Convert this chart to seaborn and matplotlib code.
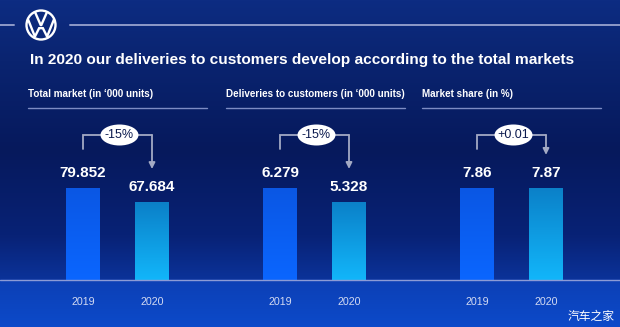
import numpy as np
import pandas as pd
import matplotlib
matplotlib.use("Agg")
import matplotlib.pyplot as plt
import matplotlib.transforms as mtransforms
from matplotlib.patches import Ellipse
from matplotlib.lines import Line2D
from matplotlib.colors import LinearSegmentedColormap
import seaborn as sns

# ---------------- data ----------------
title = "In 2020 our deliveries to customers develop according to the total markets"
panel_titles = ["Total market (in \u2018000 units)",
                "Deliveries to customers (in \u2018000 units)",
                "Market share (in %)"]
years = ["2019", "2020"]
total_market = [79.852, 67.684]
deliveries = [6.279, 5.328]
market_share = [7.86, 7.87]
decimals = [3, 3, 2]
changes = ["-15%", "-15%", "+0.01"]
watermark = "汽车之家"

# ---------------- style ----------------
sns.set_theme(style="white")
plt.rcParams['font.family'] = ['Liberation Sans', 'DejaVu Sans']

W, H, DPI = 620, 327, 100
fig = plt.figure(figsize=(W / DPI, H / DPI), dpi=DPI)


def fx(px):
    return px / W


def fy(py):
    return 1 - py / H


# background gradient
bg = fig.add_axes([0, 0, 1, 1], zorder=-10)
bg.set_axis_off()
stops_y = [0, 60, 150, 235, 278, 281, 327]
stops_c = [(13, 44, 130), (10, 36, 112), (6, 25, 92), (8, 34, 118),
           (11, 50, 152), (12, 64, 182), (12, 74, 202)]
rows = np.arange(H)
img = np.zeros((H, W, 3))
for ch in range(3):
    col = np.interp(rows, stops_y, [c[ch] / 255 for c in stops_c])
    img[:, :, ch] = col[:, None]
bg.imshow(img, extent=[0, 1, 0, 1], aspect='auto', origin='upper')
bg.set_xlim(0, 1)
bg.set_ylim(0, 1)

# header lines and logo
line_col = '#8e9bc9'
fig.add_artist(Line2D([0, fx(14)], [fy(25)] * 2, color=line_col, lw=1.4))
fig.add_artist(Line2D([fx(70), 1], [fy(25)] * 2, color=line_col, lw=1.4))
lx, ly, r = 41, 25, 14.5
fig.add_artist(Ellipse((fx(lx), fy(ly)), 2 * r / W, 2 * r / H, fill=False,
                       ec='white', lw=1.7, transform=fig.transFigure))


def logo_line(pts):
    xs = [fx(lx + px * r) for px, py in pts]
    ys = [fy(ly - py * r) for px, py in pts]
    fig.add_artist(Line2D(xs, ys, color='white', lw=1.7, solid_joinstyle='miter'))


logo_line([(-0.40, 0.86), (0, -0.05), (0.40, 0.86)])
logo_line([(-0.90, 0.40), (-0.42, -0.80), (-0.13, -0.22), (0, -0.22),
           (0.13, -0.22), (0.42, -0.80), (0.90, 0.40)])

# title and subtitles
fig.text(fx(30), fy(60), title, color='white', fontsize=11.1, fontweight='bold',
         va='center', ha='left')
sub_x = [28, 226, 422]
for tx, t in zip(sub_x, panel_titles):
    fig.text(fx(tx), fy(94), t, color='white', fontsize=7.1, fontweight='bold',
             va='center', ha='left')
    fig.add_artist(Line2D([fx(tx), fx(tx + 179)], [fy(108)] * 2,
                          color='#7d8cc4', lw=1.0))

# panels
series = [total_market, deliveries, market_share]
centers = [83, 280, 477]
pitch = 69
base_y = 280
ax_h = 170
bar_px = 92
grey = '#a3aac4'

cmap19 = LinearSegmentedColormap.from_list('c19', ['#0a66ff', '#0b57e4'])
cmap20 = LinearSegmentedColormap.from_list('c20', ['#12b6fa', '#0b80c8'])
grad = np.linspace(0, 1, 256).reshape(-1, 1)

for k, vals in enumerate(series):
    left = centers[k] - pitch / 2
    ax = fig.add_axes([fx(left), fy(base_y), fx(2 * pitch), ax_h / H])
    ax.patch.set_alpha(0)
    df = pd.DataFrame({"year": years, "value": vals})
    sns.barplot(data=df, x="year", y="value", hue="year",
                palette=['#0b5ef0', '#0c9ae0'], width=34 / 69, saturation=1,
                legend=False, ax=ax, errorbar=None, edgecolor='none', linewidth=0)
    ymax = vals[0] * ax_h / bar_px
    for p in list(ax.patches):
        p.set_edgecolor('none')
        p.set_linewidth(0)
        x0, y0 = p.get_x(), p.get_y()
        x1, y1 = x0 + p.get_width(), y0 + p.get_height()
        cm = cmap19 if x0 < 0.5 else cmap20
        im = ax.imshow(grad, extent=[x0, x1, y0, y1], aspect='auto',
                       origin='lower', cmap=cm, zorder=3)
        im.set_clip_path(p)
    ax.set_xlim(-0.5, 1.5)
    ax.set_ylim(0, ymax)
    for s in ax.spines.values():
        s.set_visible(False)
    ax.set_yticks([])
    ax.set_xlabel("")
    ax.set_ylabel("")
    ax.tick_params(axis='x', length=0, pad=12.5, labelsize=7.7, labelcolor='#d3daf2')

    for i, v in enumerate(vals):
        ax.annotate(f"{v:.{decimals[k]}f}", xy=(i, v), xytext=(0, 8),
                    textcoords='offset points', ha='center', va='baseline',
                    color='white', fontsize=11, fontweight='bold', zorder=5)

    blended = mtransforms.blended_transform_factory(ax.transData, ax.transAxes)
    yh = (base_y - 135) / ax_h
    yl = vals[0] / ymax + 39 / ax_h
    yt = vals[1] / ymax + 33 / ax_h
    ax.plot([0, 0, 1], [yl, yh, yh], transform=blended, color=grey, lw=1.3,
            clip_on=False, solid_joinstyle='miter')
    ax.annotate("", xy=(1, yt), xycoords=blended, xytext=(1, yh),
                textcoords=blended,
                arrowprops=dict(arrowstyle='-|>', color=grey, lw=1.3,
                                mutation_scale=9, shrinkA=0, shrinkB=0))
    disp = blended.transform((0.5, yh))
    cx, cy = fig.transFigure.inverted().transform(disp)
    fig.add_artist(Ellipse((cx + 2 / W, cy), 38 / W, 21 / H, fc='white', ec='none',
                           transform=fig.transFigure, zorder=4))
    fig.text(cx + 2 / W, cy, changes[k], ha='center', va='center', color='#0b1a4e',
             fontsize=9, zorder=5)

# baseline
fig.add_artist(Line2D([0, 1], [fy(base_y)] * 2, color='#8c9bd6', lw=1.0))

# watermark
fig.text(fx(591), fy(316), watermark, family=['Noto Sans CJK SC', 'DejaVu Sans'],
         ha='center', va='center', color='white', fontsize=8.5)

fig.savefig("out.png", dpi=DPI)
